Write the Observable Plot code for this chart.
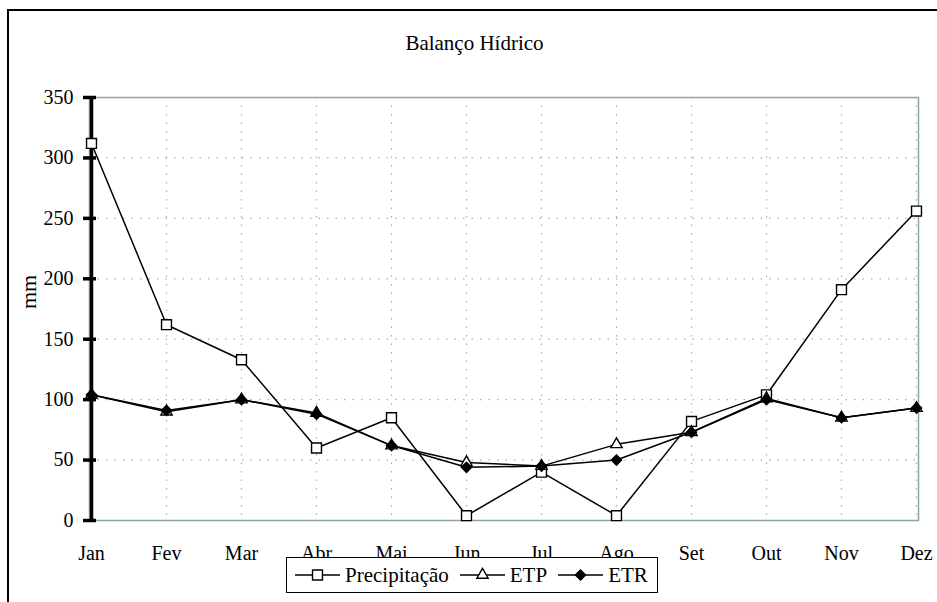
<!DOCTYPE html>
<html>
<head>
<meta charset="utf-8">
<script src="https://cdn.jsdelivr.net/npm/d3@7"></script>
<script src="https://cdn.jsdelivr.net/npm/@observablehq/plot@0.6"></script>
<style>
  html, body { margin: 0; padding: 0; background: #fff; overflow: hidden; }
  #wrap { position: relative; width: 937px; height: 602px; overflow: hidden; font-family: "Liberation Serif", "Times New Roman", serif; }
  #border { position: absolute; left: 7px; top: 9px; width: 1000px; height: 1000px; border-left: 2px solid #000; border-top: 2px solid #000; box-sizing: border-box; pointer-events: none; }
  #title { position: absolute; left: 0; width: 949px; top: 31px; text-align: center; font-size: 21px; line-height: 24px; color: #000; }
  #legend { position: absolute; left: 286px; top: 557px; width: 372px; height: 36px; box-sizing: border-box; border: 1.5px solid #000; background: #fff; display: flex; align-items: center; padding-left: 8px; font-size: 21px; color: #000; }
  .item { display: flex; align-items: center; margin-right: 11px; }
  .item svg { margin-right: 5px; }
  #chart { position: absolute; left: 0; top: 0; }
</style>
</head>
<body>
<div id="wrap">
  <div id="chart"></div>
  <div id="title"></div>
  <div id="legend"></div>
  <div id="border"></div>
</div>
<script>
const title = "Balanço Hídrico";
const yLabel = "mm";
const months = ["Jan", "Fev", "Mar", "Abr", "Mai", "Jun", "Jul", "Ago", "Set", "Out", "Nov", "Dez"];
const yTicks = [0, 50, 100, 150, 200, 250, 300, 350];
const seriesNames = ["Precipitação", "ETP", "ETR"];
const precipitacao = [312, 162, 133, 60, 85, 4, 40, 4, 82, 104, 191, 256];
const etp = [104, 90, 100, 89, 62, 48, 45, 63, 73, 101, 85, 93];
const etr = [104, 91, 100, 88, 62, 44, 45, 50, 73, 100, 85, 93];

const seriesValues = [precipitacao, etp, etr];
const symbols = ["square", "triangle", "diamond2"];
const fills = ["white", "white", "black"];
const radii = [5.6, 4.2, 4.6];

const rows = seriesNames.map((name, i) =>
  months.map((m, j) => ({ serie: name, month: m, value: seriesValues[i][j] }))
);

const lineMarks = [];
rows.forEach((data, i) => {
  lineMarks.push(Plot.line(data, { x: "month", y: "value", stroke: "black", strokeWidth: 1.5 }));
  lineMarks.push(Plot.dot(data, { x: "month", y: "value", symbol: () => symbols[i], r: radii[i], fill: fills[i], stroke: "black", strokeWidth: 1.4 }));
});

const gridStyle = { stroke: "#a3b0b0", strokeOpacity: 1, strokeWidth: 1.2, strokeDasharray: "1.5,7" };

const chart = Plot.plot({
  width: 937,
  height: 602,
  marginLeft: 89,
  marginRight: 19,
  marginTop: 97,
  marginBottom: 82,
  style: { fontFamily: "'Liberation Serif', 'Times New Roman', serif", fontSize: "20px", color: "black", background: "transparent", overflow: "visible" },
  x: { type: "point", domain: months, padding: 0 },
  y: { domain: [0, 350] },
  marks: [
    Plot.gridX(months, gridStyle),
    Plot.gridY(yTicks, gridStyle),
    Plot.frame({ stroke: "#8fa5a5", strokeWidth: 1.5 }),
    Plot.ruleX([months[0]], { y1: 0, y2: 350, stroke: "black", strokeWidth: 3.5 }),
    Plot.axisY(yTicks, { tickSize: 6, tickPadding: 10, strokeWidth: 3.5, label: null, fontSize: 20 }),
    Plot.axisY(yTicks, { tickSize: -7, strokeWidth: 3.5, label: null, tickFormat: () => "" }),
    Plot.axisX({ tickSize: 0, tickPadding: 25, label: null, fontSize: 20 }),
    Plot.text([yLabel], { frameAnchor: "left", dx: -61, rotate: -90, fontSize: 22, fill: "black" }),
    ...lineMarks
  ]
});
document.getElementById("chart").appendChild(chart);
document.getElementById("title").textContent = title;

// legend
const legend = document.getElementById("legend");
const symbolTypes = { square: d3.symbolSquare, triangle: d3.symbolTriangle, diamond2: d3.symbolDiamond2 };
seriesNames.forEach((name, i) => {
  const item = document.createElement("div");
  item.className = "item";
  const svg = d3.create("svg").attr("width", 45).attr("height", 20);
  svg.append("line").attr("x1", 0).attr("x2", 45).attr("y1", 10).attr("y2", 10).attr("stroke", "black").attr("stroke-width", 1.5);
  svg.append("path")
    .attr("transform", "translate(22.5,10)")
    .attr("d", d3.symbol(symbolTypes[symbols[i]], radii[i] * radii[i] * Math.PI)())
    .attr("fill", fills[i]).attr("stroke", "black").attr("stroke-width", 1.4);
  item.appendChild(svg.node());
  const label = document.createElement("span");
  label.textContent = name;
  item.appendChild(label);
  legend.appendChild(item);
});
</script>
</body>
</html>
